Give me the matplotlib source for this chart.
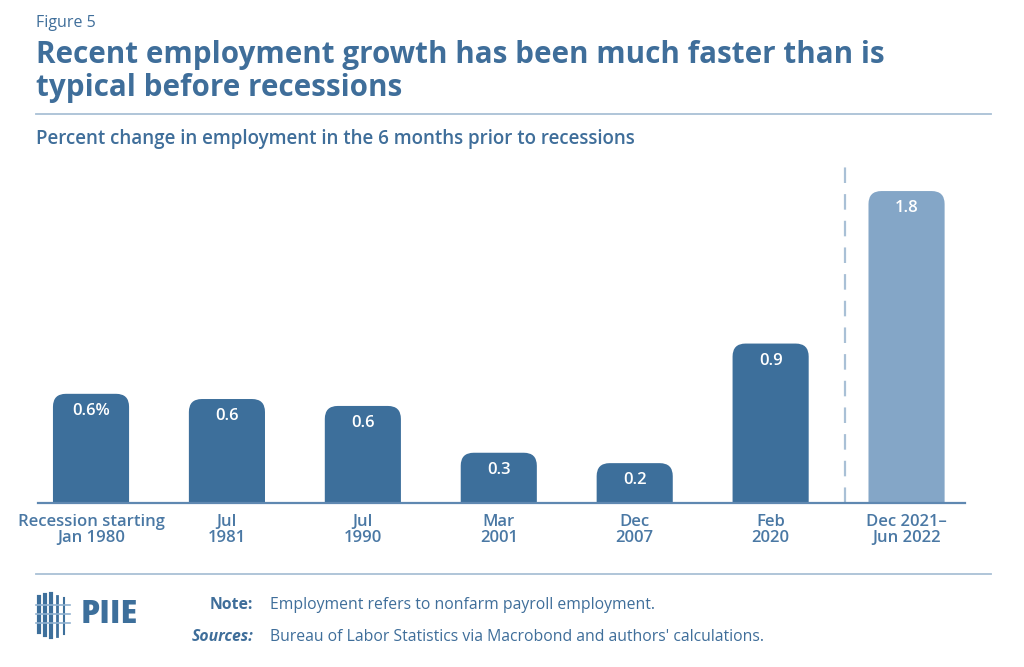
import matplotlib
matplotlib.use("Agg")
import matplotlib.pyplot as plt
from matplotlib.patches import PathPatch
from matplotlib.path import Path
from matplotlib.lines import Line2D

categories = ["Recession starting\nJan 1980", "Jul\n1981", "Jul\n1990", "Mar\n2001",
              "Dec\n2007", "Feb\n2020", "Dec 2021–\nJun 2022"]
values = [0.63, 0.60, 0.56, 0.29, 0.23, 0.92, 1.80]
value_labels = ["0.6%", "0.6", "0.6", "0.3", "0.2", "0.9", "1.8"]

DARK = "#3d6f9b"
LIGHT = "#84a6c7"
TXT = "#3f6e9a"
RULE = "#a9c0d6"
FONT = "Open Sans"

W, H = 1024, 667
fig = plt.figure(figsize=(W / 100, H / 100), dpi=100)
fig.patch.set_facecolor("white")

def fx(px):
    return px / W

def fy(py):
    return 1 - py / H

ax = fig.add_axes([fx(38), fy(503), fx(965) - fx(38), (503 - 155) / H])
ax.set_xlim(-0.39, 6.43)
ax.set_ylim(0, 2.008)

colors = [DARK] * 6 + [LIGHT]
bars = ax.bar(range(len(values)), values, width=0.56, color="none", edgecolor="none")

# rounded top corners
ppx = (6.43 + 0.39) / (965 - 38)      # data x per px
ppy = 2.008 / (503 - 155)             # data y per px
r_px = 13
rx, ry = r_px * ppx, r_px * ppy
for b, c in zip(bars, colors):
    x0, w, h = b.get_x(), b.get_width(), b.get_height()
    x1 = x0 + w
    verts = [(x0, 0), (x0, h - ry), (x0, h), (x0 + rx, h), (x1 - rx, h),
             (x1, h), (x1, h - ry), (x1, 0), (x0, 0)]
    codes = [Path.MOVETO, Path.LINETO, Path.CURVE3, Path.CURVE3, Path.LINETO,
             Path.CURVE3, Path.CURVE3, Path.LINETO, Path.CLOSEPOLY]
    ax.add_patch(PathPatch(Path(verts, codes), facecolor=c, edgecolor="none", zorder=2))

for i, (v, lab) in enumerate(zip(values, value_labels)):
    ax.text(i, v - 17 * ppy, lab, ha="center", va="center", color="white",
            fontsize=12, fontweight="semibold", family=FONT, zorder=3)

ax.axvline(5.55, ymin=0, ymax=(503 - 160) / (503 - 155), color=RULE, lw=1.6,
           dashes=(7, 5), zorder=1)

for s in ["top", "right", "left"]:
    ax.spines[s].set_visible(False)
ax.spines["bottom"].set_color("#5f88b1")
ax.spines["bottom"].set_linewidth(1.6)
ax.spines["bottom"].set_zorder(4)
ax.set_yticks([])
ax.set_xticks(range(len(categories)))
ax.set_xticklabels(categories, fontsize=12, color="#4a78a4", family=FONT,
                   fontweight="semibold", linespacing=1.0)
ax.tick_params(axis="x", length=0, pad=8)

# header
fig.text(fx(36), fy(23), "Figure 5", fontsize=11.5, color=TXT, family=FONT, va="center")
fig.text(fx(36), fy(55), "Recent employment growth has been much faster than is",
         fontsize=21.3, fontweight="bold", color=TXT, family=FONT, va="center")
fig.text(fx(36), fy(88), "typical before recessions",
         fontsize=21.3, fontweight="bold", color=TXT, family=FONT, va="center")
fig.add_artist(Line2D([fx(36), fx(991)], [fy(114), fy(114)], color=RULE, lw=1.3))
fig.text(fx(36), fy(139), "Percent change in employment in the 6 months prior to recessions",
         fontsize=13.5, fontweight="semibold", color=TXT, family=FONT, va="center")

# footer
fig.add_artist(Line2D([fx(36), fx(991)], [fy(574), fy(574)], color=RULE, lw=1.3))
fig.text(fx(253), fy(605), "Note:", fontsize=11.3, fontweight="bold", color=TXT,
         family=FONT, ha="right", va="center")
fig.text(fx(253), fy(637), "Sources:", fontsize=11.3, fontweight="bold", style="italic",
         color=TXT, family=FONT, ha="right", va="center")
fig.text(fx(270), fy(605), "Employment refers to nonfarm payroll employment.",
         fontsize=11.3, color=TXT, family=FONT, va="center")
fig.text(fx(270), fy(637), "Bureau of Labor Statistics via Macrobond and authors' calculations.",
         fontsize=11.3, color=TXT, family=FONT, va="center")

# logo
LOGO = "#3d6f9b"
for xp, y0, y1, lw in [(39, 597, 632, 3), (45, 595, 635, 3), (51, 594, 637, 3),
                       (57, 596, 636, 2), (64, 598, 634, 1.5)]:
    fig.add_artist(Line2D([fx(xp), fx(xp)], [fy(y0), fy(y1)], color=LOGO, lw=lw))
for yp in [605, 614, 623]:
    fig.add_artist(Line2D([fx(36), fx(70)], [fy(yp), fy(yp)], color="#8fb0cf", lw=1.2))
fig.text(fx(81), fy(615), "PIIE", fontsize=22, fontweight="heavy", color=LOGO,
         family=FONT, va="center")

fig.savefig("out.png", dpi=100, facecolor="white")
